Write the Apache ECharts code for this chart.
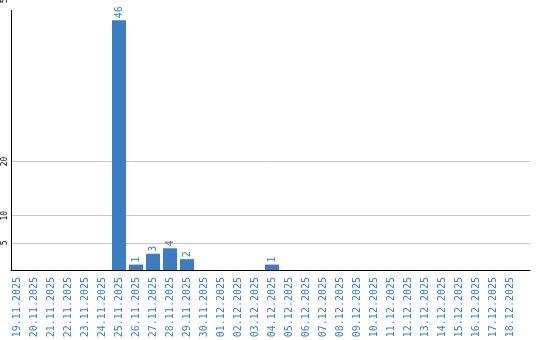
<!DOCTYPE html>
<html><head><meta charset="utf-8">
<script src="https://cdn.jsdelivr.net/npm/echarts@6/dist/echarts.min.js"></script>
<style>html,body{margin:0;padding:0;background:#fff}#c{width:540px;height:340px}</style>
</head><body><div id="c"></div>
<script>
const categories = ['19.11.2025','20.11.2025','21.11.2025','22.11.2025','23.11.2025','24.11.2025','25.11.2025','26.11.2025','27.11.2025','28.11.2025','29.11.2025','30.11.2025','01.12.2025','02.12.2025','03.12.2025','04.12.2025','05.12.2025','06.12.2025','07.12.2025','08.12.2025','09.12.2025','10.12.2025','11.12.2025','12.12.2025','13.12.2025','14.12.2025','15.12.2025','16.12.2025','17.12.2025','18.12.2025'];
const counts = [0,0,0,0,0,0,46,1,3,4,2,0,0,0,0,1,0,0,0,0,0,0,0,0,0,0,0,0,0,0];
const yTickLabels = [5,10,20,50];
const gridLineValues = [5,10,20];
const yMax = 50;

const blue = '#3b7dc3';
const mono = 'DejaVu Sans Mono';
const chart = echarts.init(document.getElementById('c'));
chart.setOption({
  animation: false,
  grid: [
    {left: 8.5, top: -1.5, width: 510, height: 271.5, outerBoundsMode: 'none', containLabel: false},
    {left: 11, top: -1.5, width: 519, height: 271.5, outerBoundsMode: 'none', containLabel: false},
    {left: 11, top: 10.5, width: 519, height: 259.5, outerBoundsMode: 'none', containLabel: false}
  ],
  xAxis: [
    {type: 'category', gridIndex: 0, data: categories,
     axisLine: {show: false}, axisTick: {show: false},
     axisLabel: {rotate: 90, interval: 0, margin: 7, color: blue, fontFamily: mono, fontSize: 10}},
    {type: 'value', gridIndex: 1, min: 0, max: 1,
     axisLine: {show: true, onZero: false, lineStyle: {color: '#000', width: 1}},
     axisTick: {show: false}, axisLabel: {show: false}, splitLine: {show: false}},
    {type: 'value', gridIndex: 2, min: 0, max: 1, show: false}
  ],
  yAxis: [
    {type: 'value', gridIndex: 0, min: 0, max: yMax, interval: 5,
     axisLine: {show: false}, axisTick: {show: false}, splitLine: {show: false},
     axisLabel: {rotate: 90, margin: 4, align: 'center', verticalAlign: 'middle',
       color: '#000', fontSize: 8, fontFamily: mono,
       formatter: v => yTickLabels.includes(v) ? String(v) : ''}},
    {type: 'value', gridIndex: 1, min: 0, max: yMax, show: false},
    {type: 'value', gridIndex: 2, min: 0, max: 1,
     axisLine: {show: true, lineStyle: {color: '#000', width: 1}},
     axisTick: {show: false}, axisLabel: {show: false}, splitLine: {show: false}}
  ],
  series: [
    {type: 'line', xAxisIndex: 1, yAxisIndex: 1, data: [], z: 1, silent: true,
     markLine: {silent: true, z: 0, symbol: 'none', animation: false, label: {show: false},
       lineStyle: {color: '#c8c8c8', type: 'solid', width: 1},
       data: gridLineValues.map(v => ({yAxis: v}))}},
    {type: 'bar', xAxisIndex: 0, yAxisIndex: 0, data: counts, barWidth: 14, z: 10,
     itemStyle: {color: blue},
     label: {show: true, position: 'top', rotate: 90, align: 'left', verticalAlign: 'middle',
       distance: 2, color: blue, fontFamily: mono, fontSize: 10,
       formatter: p => p.value ? String(p.value) : ''}}
  ]
});
</script></body></html>
